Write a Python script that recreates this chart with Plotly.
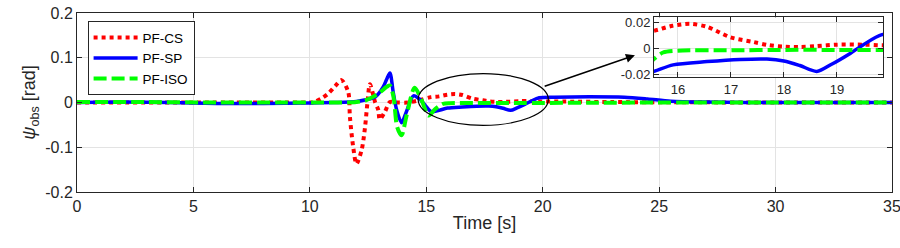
import plotly.graph_objects as go

# ---- data ----
t_cs = [0, 5, 10, 10.15, 10.5, 10.79, 11.08, 11.36, 11.65, 11.72, 11.86, 12.0, 12.22, 12.37, 12.47, 12.58,
        12.8, 12.94, 13.0, 13.22, 13.44, 13.73, 14.2, 14.7, 15.2, 15.55, 15.9, 16.23, 16.55, 16.99, 17.43,
        17.7, 18.0, 18.3, 18.6, 19.0, 19.5, 19.87, 21, 23, 26, 30, 35]
y_cs = [0, 0, 0, 0.0, 0.009, 0.02, 0.036, 0.05, 0.023, -0.032, -0.099, -0.137, -0.107, -0.055, -0.002, 0.041,
        0.001, -0.017, -0.038, -0.021, 0.001, 0.0, 0.0, 0.005, 0.012, 0.0137, 0.0175, 0.019, 0.0167, 0.0087, 0.005,
        0.0027, 0.0015, 0.0012, 0.0018, 0.003, 0.003, 0.0025, 0.002, 0.001, 0.0005, 0, 0]

t_sp = [0, 2, 4, 6, 8, 10, 11, 12, 12.4, 12.8, 13.15, 13.3, 13.44, 13.58, 13.73, 13.94, 14.15, 14.45, 14.75,
        15.01, 15.23, 15.55, 15.91, 16.55, 17.17, 17.68, 18.0, 18.3, 18.62, 18.9, 19.25, 19.5, 19.85, 20.5, 22,
        23.5, 24.5, 25.5, 27, 30, 35]
y_sp = [0, 0.001, 0, -0.002, -0.002, -0.001, 0, 0.002, 0.006, 0.012, 0.035, 0.052, 0.066, 0.023, -0.017, -0.045,
        -0.02, 0.015, 0.006, -0.01, -0.021, -0.0175, -0.0125, -0.010, -0.0083, -0.0080, -0.0095, -0.013, -0.0175,
        -0.012, -0.0037, 0.003, 0.0107, 0.012, 0.013, 0.012, 0.008, 0.003, 0.001, 0, 0]

t_iso = [0, 3, 6, 9, 11, 12, 12.4, 12.94, 13.3, 13.44, 13.6, 13.75, 13.94, 14.15, 14.5, 14.8, 15.1, 15.35,
         15.55, 15.72, 16.0, 17, 18, 19, 19.87, 22, 26, 30, 35]
y_iso = [0.001, 0.001, 0, 0, 0, 0.001, 0.005, 0.02, 0.035, 0.038, 0.01, -0.055, -0.073, -0.03, 0.033, 0.005,
         -0.029, -0.016, -0.008, -0.003, -0.0016, -0.0013, -0.0010, -0.0010, -0.0010, -0.0005, 0, 0, 0]

names = ["PF-CS", "PF-SP", "PF-ISO"]
colors = ["#ff0000", "#0000ff", "#00ff00"]

x_ticks = [0, 5, 10, 15, 20, 25, 30, 35]
y_ticks = [-0.2, -0.1, 0, 0.1, 0.2]
y_tick_labels = ["-0.2", "-0.1", "0", "0.1", "0.2"]
inset_x_ticks = [16, 17, 18, 19]
inset_y_ticks = [-0.02, 0, 0.02]
inset_y_tick_labels = ["-0.02", "0", "0.02"]

FONT = "Liberation Sans, Arial, Helvetica, sans-serif"
FRAME = "#262626"
GRID = "#e3e3e3"

series = [(t_cs, y_cs, dict(color=colors[0], width=4, dash="4px,4px")),
          (t_sp, y_sp, dict(color=colors[1], width=3.5)),
          (t_iso, y_iso, dict(color=colors[2], width=4, dash="13px,5px"))]

fig = go.Figure()
for (t, y, ln), nm in zip(series, names):
    fig.add_trace(go.Scatter(x=t, y=y, mode="lines", name=nm,
                             line=dict(shape="spline", smoothing=0.8, **ln)))
for (t, y, ln), nm in zip(series, names):
    fig.add_trace(go.Scatter(x=t, y=y, mode="lines", name=nm, showlegend=False,
                             xaxis="x2", yaxis="y2",
                             line=dict(shape="spline", smoothing=0.8, **ln)))

axis_common = dict(showline=True, linecolor=FRAME, linewidth=1, mirror="ticks",
                   ticks="inside", tickcolor=FRAME, ticklen=5, showgrid=True,
                   gridcolor=GRID, gridwidth=1, zeroline=False, automargin=False,
                   ticklabeloverflow="allow")

fig.update_layout(
    width=900, height=248,
    margin=dict(l=77, r=8, t=13, b=56),
    paper_bgcolor="white", plot_bgcolor="white",
    font=dict(family=FONT, size=16, color=FRAME),
    xaxis=dict(range=[0, 35], tickvals=x_ticks, domain=[0, 1],
               title=dict(text="Time [s]", font=dict(size=18), standoff=2), **axis_common),
    yaxis=dict(range=[-0.2, 0.2], tickvals=y_ticks, ticktext=y_tick_labels, domain=[0, 1],
               title=dict(text="<i>ψ</i><sub>obs</sub> [rad]", font=dict(size=18), standoff=4),
               **axis_common),
    xaxis2=dict(range=[15.55, 19.87], tickvals=inset_x_ticks, domain=[0.708, 0.989], anchor="y2",
                tickfont=dict(size=13), **axis_common),
    yaxis2=dict(range=[-0.022, 0.024], tickvals=inset_y_ticks, ticktext=inset_y_tick_labels,
                domain=[0.641, 0.976], anchor="x2", tickfont=dict(size=13), **axis_common),
    legend=dict(x=0.013, y=0.954, xanchor="left", yanchor="top",
                bordercolor=FRAME, borderwidth=1, bgcolor="white",
                font=dict(size=13.5, color="black"), tracegroupgap=0, itemwidth=44),
    showlegend=True,
)

fig.add_shape(type="circle", xref="x", yref="y", x0=14.65, x1=20.24, y0=-0.051, y1=0.0646,
              line=dict(color="black", width=1.2))
fig.add_annotation(x=23.96, y=0.1055, ax=20.02, ay=0.035, xref="x", yref="y", axref="x", ayref="y",
                   text="", showarrow=True, arrowhead=2, arrowsize=1.2, arrowwidth=1.5, arrowcolor="black")

fig.write_html("out.html", config={"displayModeBar": False},
               post_script="document.body.style.margin='0';")
